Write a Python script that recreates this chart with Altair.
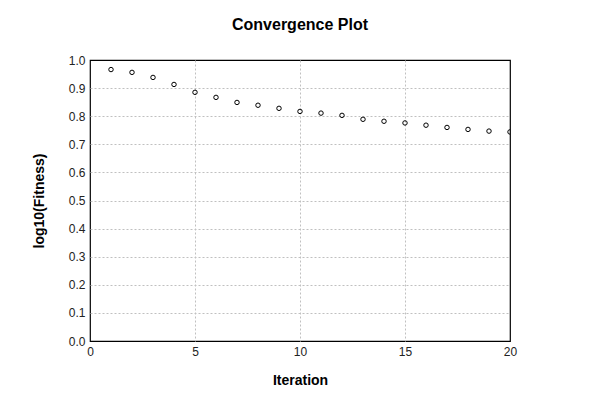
import altair as alt
import pandas as pd

iterations = list(range(1, 21))
fitness = [0.966, 0.956, 0.938, 0.913, 0.885, 0.867, 0.849, 0.839, 0.828, 0.817,
           0.811, 0.803, 0.789, 0.782, 0.776, 0.768, 0.760, 0.753, 0.747, 0.744]

df = pd.DataFrame({"Iteration": iterations, "Fitness": fitness})

font = "Liberation Sans"

x_grid_op = {"condition": {"test": "datum.value == 0 || datum.value == 20", "value": 0}, "value": 1}
y_grid_op = {"condition": {"test": "datum.value == 0 || datum.value == 1", "value": 0}, "value": 1}

chart = alt.Chart(df).mark_point(
    shape="circle", filled=False, color="black", size=20, strokeWidth=1, opacity=1, clip=True
).encode(
    x=alt.X("Iteration:Q", scale=alt.Scale(domain=[0, 20], nice=False),
            axis=alt.Axis(title="Iteration", values=[0, 5, 10, 15, 20], format="d",
                          tickSize=0, labelPadding=5, titlePadding=16,
                          gridOpacity=x_grid_op)),
    y=alt.Y("Fitness:Q", scale=alt.Scale(domain=[0, 1], nice=False),
            axis=alt.Axis(title="log10(Fitness)", values=[i / 10 for i in range(11)],
                          format=".1f", tickSize=0, labelPadding=5, titlePadding=22,
                          gridOpacity=y_grid_op)),
).properties(
    width=420, height=281,
    title=alt.TitleParams("Convergence Plot", fontSize=16, fontWeight="bold",
                          font=font, color="black", offset=21),
    autosize=alt.AutoSizeParams(type="none"),
    padding={"left": 82, "top": 52, "right": 10, "bottom": 51},
).configure_view(
    stroke="black", strokeWidth=1.2
).configure_axis(
    grid=True, gridColor="#c0c0c0", gridDash=[2, 2], gridWidth=1,
    domain=False, labelFont=font, labelFontSize=12, labelColor="#222222",
    titleFont=font, titleFontSize=14, titleFontWeight="bold", titleColor="black",
    labelFlush=False
)

chart.save("out.html", embed_options={"renderer": "svg", "actions": False})
